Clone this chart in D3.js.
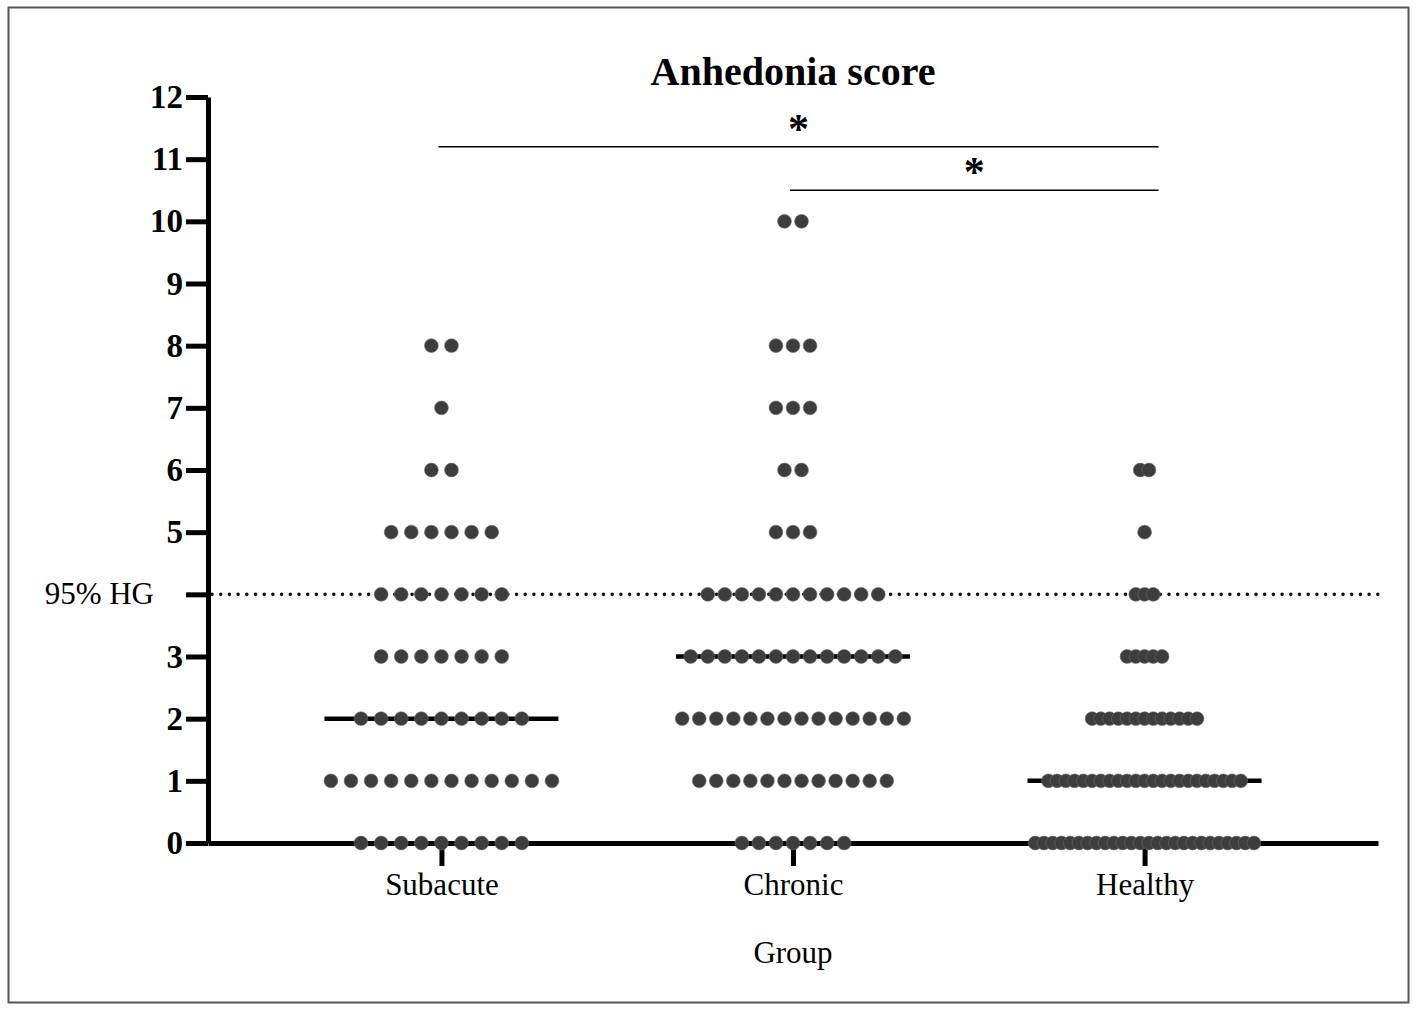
<!DOCTYPE html>
<html>
<head>
<meta charset="utf-8">
<script src="https://cdn.jsdelivr.net/npm/d3@7"></script>
<style>
  body { margin: 0; background: #fff; }
</style>
</head>
<body>
<div class="chart"></div>
<script>
// data: number of subjects at each anhedonia score
const groups = ["Subacute", "Chronic", "Healthy"];
const scores = [0, 1, 2, 3, 4, 5, 6, 7, 8, 9, 10];
const subacuteCounts = [9, 12, 9, 7, 7, 6, 2, 1, 2, 0, 0];
const chronicCounts  = [7, 12, 14, 13, 11, 3, 2, 3, 3, 0, 2];
const healthyCounts  = [26, 23, 13, 5, 3, 1, 2, 0, 0, 0, 0];
const medians = [2, 3, 1];
const yTicks = [0, 1, 2, 3, 4, 5, 6, 7, 8, 9, 10, 11, 12];
const refValue = 4;               // 95% of healthy group
const refLabel = "95% HG";
const sigPairs = [["Subacute", "Healthy", 11.2], ["Chronic", "Healthy", 10.5]];

const W = 1417, H = 1011;
const margin = {top: 97, right: 39, bottom: 168, left: 208};
const dotR = 6.9;
const spacing = [20.1, 17.05, 8.75];   // horizontal dot pitch per column
const serif = "'Liberation Serif', 'Times New Roman', serif";

const svg = d3.select(".chart").append("svg")
    .attr("width", W)
    .attr("height", H)
    .style("font-family", serif);

// outer frame
svg.append("rect")
    .attr("x", 8.5).attr("y", 7.5)
    .attr("width", 1400).attr("height", 995)
    .attr("fill", "none")
    .attr("stroke", "#555")
    .attr("stroke-width", 2);

const y = d3.scaleLinear()
    .domain([0, 12])
    .range([H - margin.bottom, margin.top]);

const x = d3.scalePoint()
    .domain(groups)
    .range([margin.left, W - margin.right])
    .padding(0.664);

// reference dotted line
svg.append("line")
    .attr("x1", margin.left + 4).attr("x2", W - margin.right + 2)
    .attr("y1", y(refValue)).attr("y2", y(refValue))
    .attr("stroke", "#111")
    .attr("stroke-width", 3.6)
    .attr("stroke-linecap", "round")
    .attr("stroke-dasharray", "0 8.7");

// dots
const counts = [subacuteCounts, chronicCounts, healthyCounts];
const dots = [];
groups.forEach((g, gi) => {
  scores.forEach((s, si) => {
    const n = counts[gi][si];
    for (let k = 0; k < n; k++) {
      dots.push({group: gi, score: s, off: (k - (n - 1) / 2) * spacing[gi]});
    }
  });
});

// median lines (drawn under dots)
svg.selectAll(".median")
    .data(medians)
    .join("line")
    .attr("class", "median")
    .attr("x1", (d, i) => x(groups[i]) - 117)
    .attr("x2", (d, i) => x(groups[i]) + 117)
    .attr("y1", d => y(d)).attr("y2", d => y(d))
    .attr("stroke", "#000")
    .attr("stroke-width", 4.5);

// x axis
const xAxis = g => g
    .attr("transform", `translate(0, ${y(0)})`)
    .call(d3.axisBottom(x).tickSize(23).tickPadding(7).tickSizeOuter(0))
    .call(g => g.select(".domain").attr("stroke-width", 5))
    .call(g => g.selectAll(".tick line").attr("stroke-width", 5))
    .call(g => g.selectAll("text")
        .style("font-size", "31px")
        .style("font-family", serif)
        .attr("fill", "#000"));

// y axis
const yAxis = g => g
    .attr("transform", `translate(${margin.left}, 0)`)
    .call(d3.axisLeft(y).tickValues(yTicks).tickSize(22).tickPadding(3)
        .tickSizeOuter(0)
        .tickFormat(d => d === refValue ? "" : d))
    .call(g => g.select(".domain").attr("stroke-width", 5))
    .call(g => g.selectAll(".tick line").attr("stroke-width", 5))
    .call(g => g.selectAll("text")
        .style("font-size", "33px")
        .style("font-weight", "bold")
        .style("font-family", serif)
        .attr("fill", "#000"));

svg.append("g").call(xAxis);
svg.append("g").call(yAxis);

svg.selectAll(".dot")
    .data(dots)
    .join("circle")
    .attr("class", "dot")
    .attr("cx", d => x(groups[d.group]) + d.off)
    .attr("cy", d => y(d.score))
    .attr("r", dotR)
    .attr("fill", "#3d3d3d")
    .attr("stroke", "#6a6a6a")
    .attr("stroke-width", 0.6);

// reference label
svg.append("text")
    .attr("x", 154)
    .attr("y", y(refValue))
    .attr("dy", "0.32em")
    .attr("text-anchor", "end")
    .style("font-size", "31px")
    .text(refLabel);

// significance bars
sigPairs.forEach(p => {
  const x1 = x(p[0]) - 3, x2 = x(p[1]) + 14;
  svg.append("line")
      .attr("x1", x1).attr("x2", x2)
      .attr("y1", y(p[2])).attr("y2", y(p[2]))
      .attr("stroke", "#000")
      .attr("stroke-width", 1.5);
  svg.append("text")
      .attr("x", (x1 + x2) / 2)
      .attr("y", y(p[2]) - 4)
      .attr("text-anchor", "middle")
      .style("font-size", "42px")
      .style("font-weight", "bold")
      .text("*");
});

// title + axis title
svg.append("text")
    .attr("x", 793).attr("y", 85)
    .attr("text-anchor", "middle")
    .style("font-size", "40px")
    .style("font-weight", "bold")
    .text("Anhedonia score");

svg.append("text")
    .attr("x", 793).attr("y", 963)
    .attr("text-anchor", "middle")
    .style("font-size", "31px")
    .text("Group");
</script>
</body>
</html>
